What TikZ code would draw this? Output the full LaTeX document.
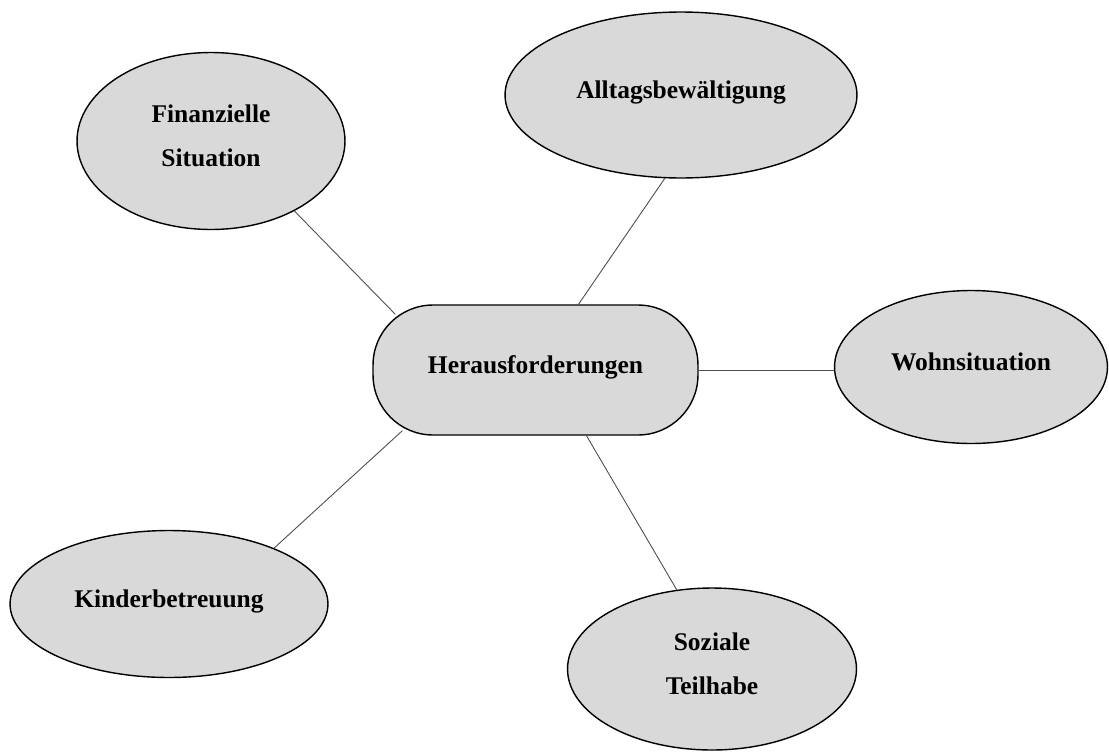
\documentclass[tikz,border=0pt]{standalone}
\usepackage{fontspec}
\setmainfont{Liberation Serif}
\usetikzlibrary{shapes.geometric}
\definecolor{bubblegray}{HTML}{D9D9D9}

\begin{document}
\begin{tikzpicture}[x=0.02cm, y=-0.02cm,
    topic/.style={ellipse, draw, line width=0.8pt, fill=bubblegray, inner sep=0pt, align=center, text depth=0.22cm, font=\bfseries\fontsize{14.5}{25}\selectfont},
    hub/.style={rectangle, rounded corners=1.2cm, draw, line width=0.8pt, fill=bubblegray, minimum width=6.5cm, minimum height=2.6cm, inner sep=0pt, text depth=0.22cm, font=\bfseries\fontsize{14.5}{25}\selectfont},
    link/.style={draw=black!70, line width=0.5pt}]
    \useasboundingbox (0,0) rectangle (1109,751);

    \node[hub] at (535.5,370) (hub) {Herausforderungen};
    \node[topic, minimum width=5.36cm, minimum height=3.54cm] at (211,141) (fin) {Finanzielle\\Situation};
    \node[topic, minimum width=7.04cm, minimum height=3.32cm] at (681,95) (alltag) {Alltagsbewältigung};
    \node[topic, minimum width=5.46cm, minimum height=3.06cm] at (971,367) (wohn) {Wohnsituation};
    \node[topic, minimum width=6.36cm, minimum height=2.94cm] at (169,604) (kinder) {Kinderbetreuung};
    \node[topic, minimum width=5.78cm, minimum height=3.24cm] at (712,669) (sozial) {Soziale\\Teilhabe};

    \draw [link] (fin.-40) -- ([shift={(23,10)}]hub.north west);
    \draw [link] (alltag.-101) -- ([shift={(43,0)}]hub.north);
    \draw [link] (hub.east) -- (wohn.west |- hub.east);
    \draw [link] (kinder.28) -- ([shift={(30,-5)}]hub.south west);
    \draw [link] (sozial.114) -- ([shift={(51,0)}]hub.south);
\end{tikzpicture}
\end{document}
